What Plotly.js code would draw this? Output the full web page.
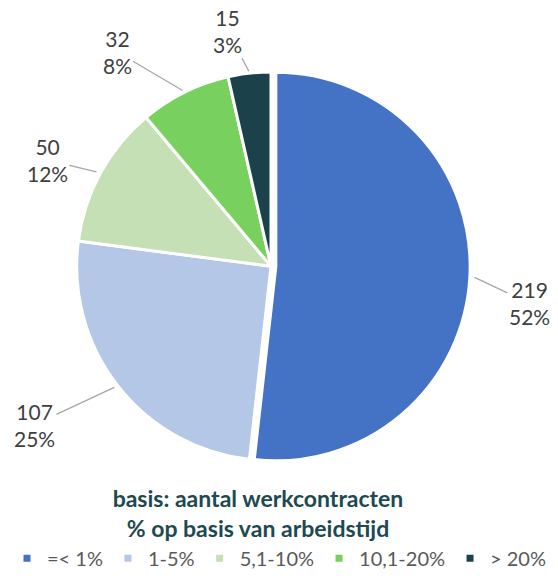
<!DOCTYPE html>
<html>
<head>
<meta charset="utf-8">
<script src="https://cdn.plot.ly/plotly-3.0.1.min.js"></script>
<style>
  html, body { margin: 0; padding: 0; background: #fff; }
  #chart { width: 558px; height: 578px; }
</style>
</head>
<body>
<div id="chart"></div>
<script>
// data
const categories = ['=&lt; 1%', '1-5%', '5,1-10%', '10,1-20%', '&gt; 20%'];
const counts = [219, 107, 50, 32, 15];
const percentLabels = ['52%', '25%', '12%', '8%', '3%'];
const colors = ['#4472C4', '#B4C7E7', '#C5E0B4', '#78D05F', '#1B424A'];

// layout constants (pixels)
const W = 558, H = 578;
const cx = 271, cy = 270, r = 197;
const pull = [0.025, 0, 0, 0, 0];
const labelDist = [1.325, 1.45, 1.26, 1.35, 1.23];
const labelTurn = [5, 4, -3, -9, -4];

const maxPull = Math.max(...pull);
const half = r * (1 + maxPull);

const pieTrace = {
  type: 'pie',
  values: counts,
  labels: categories,
  sort: false,
  direction: 'clockwise',
  rotation: 0,
  pull: pull,
  textinfo: 'none',
  hoverinfo: 'label+value+percent',
  showlegend: false,
  marker: {colors: colors, line: {color: '#ffffff', width: 3}},
  domain: {
    x: [(cx - half) / W, (cx + half) / W],
    y: [1 - (cy + half) / H, 1 - (cy - half) / H],
  },
};

// legend-only traces so the swatches are small squares
const legendTraces = categories.map((name, i) => ({
  type: 'scatter',
  mode: 'markers',
  x: [null],
  y: [null],
  name: name,
  marker: {symbol: 'square', size: 7, color: colors[i]},
  hoverinfo: 'skip',
}));

// outside labels with leader lines, placed from the slice angles
const total = counts.reduce((a, b) => a + b, 0);
let cum = 0;
const annotations = counts.map((v, i) => {
  const mid = (cum + v / 2) / total * 360;
  cum += v;
  const rad = mid * Math.PI / 180;
  const rr = r * (1 + pull[i]) + 2;
  const tipX = cx + rr * Math.sin(rad);
  const tipY = cy - rr * Math.cos(rad);
  const la = (mid + labelTurn[i]) * Math.PI / 180;
  const d = r * labelDist[i];
  const lx = cx + d * Math.sin(la);
  const ly = cy - d * Math.cos(la);
  return {
    xref: 'paper', yref: 'paper',
    x: tipX / W, y: 1 - tipY / H,
    ax: lx - tipX, ay: ly - tipY,
    text: v + '<br>' + percentLabels[i],
    showarrow: true,
    arrowhead: 0,
    arrowwidth: 1.3,
    arrowcolor: '#A6A6A6',
    standoff: 0,
    font: {family: 'Lato, sans-serif', size: 21, color: '#404040'},
    align: 'center',
  };
});

const layout = {
  width: W,
  height: H,
  margin: {l: 0, r: 0, t: 0, b: 0},
  paper_bgcolor: '#ffffff',
  plot_bgcolor: '#ffffff',
  xaxis: {visible: false},
  yaxis: {visible: false},
  title: {
    text: '<b>basis: aantal werkcontracten<br>% op basis van arbeidstijd</b>',
    font: {family: 'Lato, sans-serif', size: 23, color: '#1D4950'},
    xref: 'paper', yref: 'paper',
    x: 258 / W, xanchor: 'center',
    y: 1 - 514 / H, yanchor: 'middle',
  },
  showlegend: true,
  legend: {
    orientation: 'h',
    x: 0.5, xanchor: 'center',
    y: 1 - 566 / H, yanchor: 'middle',
    font: {family: 'Lato, sans-serif', size: 20, color: '#595959'},
    itemwidth: 30,
    traceorder: 'normal',
  },
  annotations: annotations,
};

Plotly.newPlot('chart', [pieTrace, ...legendTraces], layout, {displayModeBar: false, staticPlot: true});
</script>
</body>
</html>
